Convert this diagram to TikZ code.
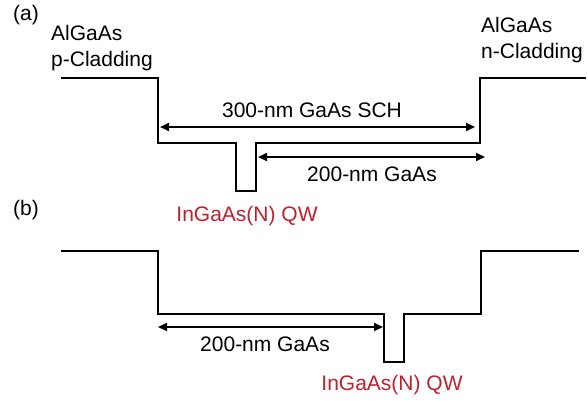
\documentclass[tikz,border=0pt]{standalone}
\usepackage{fontspec}
\setmainfont{Liberation Sans}
\usepackage{xcolor}
\usetikzlibrary{arrows.meta,positioning}
\definecolor{qwred}{RGB}{192,32,44}

\tikzset{
  band/.style={line width=2.6pt, line join=miter},
  dimline/.style={line width=1.8pt, {Triangle[length=9pt,width=8pt]}-{Triangle[length=9pt,width=8pt]}},
  lbl/.style={inner sep=0pt, font=\fontsize{21}{26}\selectfont},
  qwlbl/.style={lbl, text=qwred},
}

\begin{document}
\begin{tikzpicture}[x=1pt,y=-1pt]
  \useasboundingbox (0,0) rectangle (588,401);

  % (a) QW near the p-side
  \node[lbl, anchor=base west] (tag-a) at (13,21) {(a)};
  \node[lbl, anchor=base west, align=left] (pclad) at (51,67) {AlGaAs\\p-Cladding};
  \node[lbl, anchor=base west, align=left] (nclad) at (481,59) {AlGaAs\\n-Cladding};
  \draw[band] (61,78) -| (158,143) -| (236,191) -| (256,143) -| (480,78) -- (586,78);
  \coordinate (sch-l) at (160,127);
  \coordinate (sch-r) at (475,127);
  \draw[dimline] (sch-l) -- (sch-r);
  \node[lbl, anchor=base] (sch) at (312,117.5) {300-nm GaAs SCH};
  \coordinate (ga-l) at (258,157);
  \coordinate (ga-r) at (485,157);
  \draw[dimline] (ga-l) -- (ga-r);
  \node[lbl, anchor=base] (ga-a) at (372,181) {200-nm GaAs};
  \node[qwlbl, anchor=base] (qw-a) at (247,221.5) {InGaAs(N) QW};

  % (b) QW near the n-side
  \node[lbl, anchor=base west] (tag-b) at (13,215) {(b)};
  \draw[band] (61,251) -| (158,314) -| (384,362) -| (404,314) -| (481,251) -- (579,251);
  \coordinate (gb-l) at (158,327);
  \coordinate (gb-r) at (383,327);
  \draw[dimline] (gb-l) -- (gb-r);
  \node[lbl, anchor=base] (ga-b) at (265,351.5) {200-nm GaAs};
  \node[qwlbl, anchor=base] (qw-b) at (392,390) {InGaAs(N) QW};
\end{tikzpicture}
\end{document}
